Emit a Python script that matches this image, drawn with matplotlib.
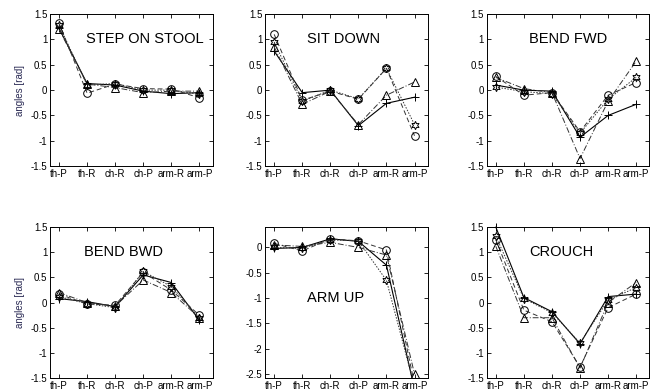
import matplotlib
matplotlib.use("Agg")
import matplotlib.pyplot as plt

plt.rcParams['font.family'] = ['Liberation Sans', 'DejaVu Sans']

categories = ["th-P", "th-R", "ch-R", "ch-P", "arm-R", "arm-P"]
titles = ["STEP ON STOOL", "SIT DOWN", "BEND FWD", "BEND BWD", "ARM UP", "CROUCH"]

# series order per panel: plus, circle, triangle, hexagram
step_plus = [1.22, 0.13, 0.10, -0.02, -0.07, -0.05]
step_circ = [1.32, -0.06, 0.12, 0.03, 0.02, -0.15]
step_tri = [1.20, 0.12, 0.05, -0.05, -0.02, -0.02]
step_hex = [1.28, 0.10, 0.13, 0.00, 0.00, -0.08]

sit_plus = [0.77, -0.05, 0.00, -0.70, -0.26, -0.14]
sit_circ = [1.10, -0.20, -0.02, -0.18, 0.43, -0.90]
sit_tri = [0.85, -0.28, -0.02, -0.68, -0.10, 0.16]
sit_hex = [0.95, -0.22, 0.00, -0.17, 0.43, -0.68]

fwd_plus = [0.10, 0.00, -0.02, -0.93, -0.50, -0.28]
fwd_circ = [0.27, -0.10, -0.05, -0.82, -0.10, 0.15]
fwd_tri = [0.25, 0.03, -0.05, -1.35, -0.22, 0.57]
fwd_hex = [0.06, -0.03, -0.07, -0.85, -0.18, 0.25]

bwd_plus = [0.08, 0.02, -0.08, 0.55, 0.40, -0.35]
bwd_circ = [0.17, -0.03, -0.05, 0.60, 0.25, -0.25]
bwd_tri = [0.20, 0.00, -0.07, 0.45, 0.20, -0.30]
bwd_hex = [0.12, -0.02, -0.10, 0.62, 0.32, -0.30]

up_plus = [-0.02, 0.00, 0.17, 0.12, -0.35, -2.80]
up_circ = [0.08, -0.07, 0.17, 0.13, -0.05, -2.70]
up_tri = [0.05, 0.02, 0.10, 0.00, -0.15, -2.50]
up_hex = [0.00, -0.02, 0.15, 0.13, -0.65, -2.75]

crouch_plus = [1.50, 0.10, -0.18, -0.82, 0.12, 0.17]
crouch_circ = [1.25, -0.15, -0.38, -1.28, -0.10, 0.17]
crouch_tri = [1.12, -0.30, -0.30, -1.30, 0.00, 0.40]
crouch_hex = [1.32, 0.08, -0.20, -0.80, 0.05, 0.30]

panels = [
    (step_plus, step_circ, step_tri, step_hex),
    (sit_plus, sit_circ, sit_tri, sit_hex),
    (fwd_plus, fwd_circ, fwd_tri, fwd_hex),
    (bwd_plus, bwd_circ, bwd_tri, bwd_hex),
    (up_plus, up_circ, up_tri, up_hex),
    (crouch_plus, crouch_circ, crouch_tri, crouch_hex),
]

fig = plt.figure(figsize=(6.5, 3.91), dpi=100)
lefts = [0.077, 0.408, 0.749]
width = 0.250
rows = [(0.575, 0.389), (0.033, 0.386)]
title_pos = [(0.22, 0.835), (0.26, 0.835), (0.26, 0.835),
             (0.21, 0.834), (0.26, 0.53), (0.26, 0.834)]

styles = [
    dict(marker='+', linestyle='-', color='black', ms=6, lw=0.8),
    dict(marker='o', linestyle=(0, (5, 3)), color='#333333', ms=5.5, lw=0.7),
    dict(marker='^', linestyle=(0, (6, 2, 1, 2)), color='#333333', ms=5.5, lw=0.7),
    dict(marker=(6, 1, 0), linestyle=(0, (1.5, 1.5)), color='#333333', ms=6, lw=0.7),
]

x = list(range(1, len(categories) + 1))
for i, data in enumerate(panels):
    r, c = divmod(i, 3)
    b, h = rows[r]
    ax = fig.add_axes([lefts[c], b, width, h])
    for ys, st in zip(data, styles):
        ax.plot(x, ys, marker=st['marker'], linestyle=st['linestyle'],
                color=st['color'], markersize=st['ms'], linewidth=st['lw'],
                markerfacecolor='none', markeredgecolor='black',
                markeredgewidth=0.7, clip_on=(i == 4))
    ax.set_xlim(0.68, 6.47)
    if i == 4:
        ax.set_ylim(-2.58, 0.4)
        ax.set_yticks([0, -0.5, -1, -1.5, -2, -2.5])
        ax.set_yticklabels(['0', '-0.5', '-1', '-1.5', '-2', '-2.5'])
    else:
        ax.set_ylim(-1.5, 1.5)
        ax.set_yticks([-1.5, -1, -0.5, 0, 0.5, 1, 1.5])
        ax.set_yticklabels(['-1.5', '-1', '-0.5', '0', '0.5', '1', '1.5'])
    ax.set_xticks(x)
    ax.set_xticklabels(categories)
    ax.tick_params(direction='in', top=True, right=True, length=3,
                   width=0.6, labelsize=7, pad=2)
    for s in ax.spines.values():
        s.set_linewidth(0.7)
    ax.text(title_pos[i][0], title_pos[i][1], titles[i], transform=ax.transAxes,
            fontsize=10.5, ha='left', va='center')
    if c == 0:
        ax.set_ylabel('angles [rad]', fontsize=7, color='#2b2b55', labelpad=4)

fig.savefig('out.png', dpi=100)
